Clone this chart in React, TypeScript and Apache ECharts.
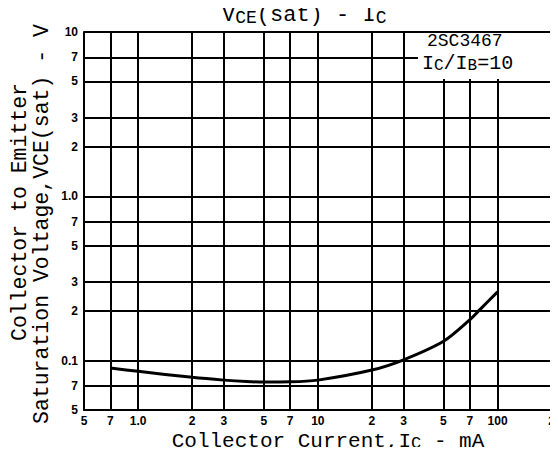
import React, { useEffect, useRef } from 'react';
import * as echarts from 'echarts';

const currentMA = [0.7, 1, 2, 3, 4, 5, 7, 10, 20, 30, 50, 70, 80, 100];
const vceSat = [0.09, 0.086, 0.079, 0.076, 0.0745, 0.074, 0.0742, 0.076, 0.0875, 0.101, 0.131, 0.177, 0.205, 0.262];
const xTicks = [0.5, 0.7, 1, 2, 3, 5, 7, 10, 20, 30, 50, 70, 100, 200];
const xTickLabels = ['5', '7', '1.0', '2', '3', '5', '7', '10', '2', '3', '5', '7', '100', '2'];
const yTicks = [0.05, 0.07, 0.1, 0.2, 0.3, 0.5, 0.7, 1, 2, 3, 5, 7, 10];
const yTickLabels = ['5', '7', '0.1', '2', '3', '5', '7', '1.0', '2', '3', '5', '7', '10'];

const MONO = '"Liberation Mono", "DejaVu Sans Mono", monospace';
const NUM = '"Liberation Sans Narrow", "Liberation Sans", sans-serif';

function labelFor(ticks: number[], labels: string[]) {
  return (v: number) => {
    for (let i = 0; i < ticks.length; i++) {
      if (Math.abs(Math.log10(v) - Math.log10(ticks[i])) < 1e-4) return labels[i];
    }
    return '';
  };
}

export default function App() {
  const ref = useRef<HTMLDivElement>(null);
  useEffect(() => {
    if (!ref.current) return;
    const chart = echarts.init(ref.current, null, { renderer: 'svg' });
    const gridLine = { show: true, lineStyle: { color: '#000', width: 2 } };
    chart.setOption({
      animation: false,
      backgroundColor: '#fff',
      title: {
        left: 222,
        top: 4,
        padding: 0,
        text: '{a|V}{b|CE}{a|(sat) - I}{b|C}',
        textStyle: {
          fontWeight: 'normal',
          rich: {
            a: { fontFamily: MONO, fontSize: 22, fontWeight: 'normal', color: '#000' },
            b: { fontFamily: MONO, fontSize: 18, fontWeight: 'normal', color: '#000', padding: [5, 0, 0, 0] },
          },
        },
      },
      grid: { left: 84, right: 5, top: 32, bottom: 45, containLabel: false },
      xAxis: {
        type: 'log',
        logBase: 10,
        min: 0.5,
        max: 200,
        axisLine: { show: true, lineStyle: { color: '#000', width: 2 } },
        axisTick: { show: false, customValues: xTicks },
        splitLine: gridLine,
        minorSplitLine: { show: false },
        axisLabel: {
          customValues: xTicks,
          formatter: labelFor(xTicks, xTickLabels),
          color: '#000',
          fontFamily: NUM,
          fontWeight: 'bold',
          fontSize: 12,
          margin: 5,
          showMinLabel: true,
          showMaxLabel: true,
          hideOverlap: false,
        },
      },
      yAxis: {
        type: 'log',
        logBase: 10,
        min: 0.05,
        max: 10,
        axisLine: { show: true, lineStyle: { color: '#000', width: 2 } },
        axisTick: { show: false, customValues: yTicks },
        splitLine: gridLine,
        axisLabel: {
          customValues: yTicks,
          formatter: labelFor(yTicks, yTickLabels),
          color: '#000',
          fontFamily: NUM,
          fontWeight: 'bold',
          fontSize: 12,
          margin: 6,
          showMinLabel: true,
          showMaxLabel: true,
          hideOverlap: false,
        },
      },
      series: [
        {
          type: 'line',
          data: currentMA.map((c, i) => [c, vceSat[i]]),
          showSymbol: false,
          smooth: 0.3,
          lineStyle: { color: '#000', width: 3 },
          z: 5,
        },
      ],
      graphic: [
        {
          type: 'rect',
          z: 100,
          shape: { x: 418, y: 33, width: 134, height: 46 },
          style: { fill: '#fff' },
        },
        {
          type: 'text',
          z: 101,
          x: 427,
          y: 41,
          style: {
            text: '2SC3467',
            font: `18px ${MONO}`,
            fill: '#000',
            textVerticalAlign: 'middle',
          },
        },
        {
          type: 'text',
          z: 101,
          x: 422,
          y: 63,
          style: {
            text: '{a|I}{b|C}{a|/I}{b|B}{a|=10}',
            fill: '#000',
            textVerticalAlign: 'middle',
            rich: {
              a: { fontFamily: MONO, fontSize: 20, fill: '#000' },
              b: { fontFamily: MONO, fontSize: 16, fill: '#000', padding: [6, 0, 0, 0] },
            },
          },
        },
        {
          type: 'text',
          x: 328,
          y: 441,
          style: {
            text: '{a|Collector Current,I}{b|C}{a| - mA}',
            textAlign: 'center',
            textVerticalAlign: 'middle',
            rich: {
              a: { fontFamily: MONO, fontSize: 21, fill: '#000' },
              b: { fontFamily: MONO, fontSize: 17, fill: '#000', padding: [5, 0, 0, 0] },
            },
          },
        },
        {
          type: 'text',
          x: 20,
          y: 212,
          rotation: Math.PI / 2,
          style: {
            text: 'Collector to Emitter',
            font: `21.5px ${MONO}`,
            fill: '#000',
            textAlign: 'center',
            textVerticalAlign: 'middle',
          },
        },
        {
          type: 'text',
          x: 42,
          y: 224,
          rotation: Math.PI / 2,
          style: {
            text: 'Saturation Voltage,VCE(sat) - V',
            font: `21.5px ${MONO}`,
            fill: '#000',
            textAlign: 'center',
            textVerticalAlign: 'middle',
          },
        },
      ],
    });
    return () => chart.dispose();
  }, []);
  return <div ref={ref} style={{ width: 558, height: 455, margin: -8 }} />;
}
